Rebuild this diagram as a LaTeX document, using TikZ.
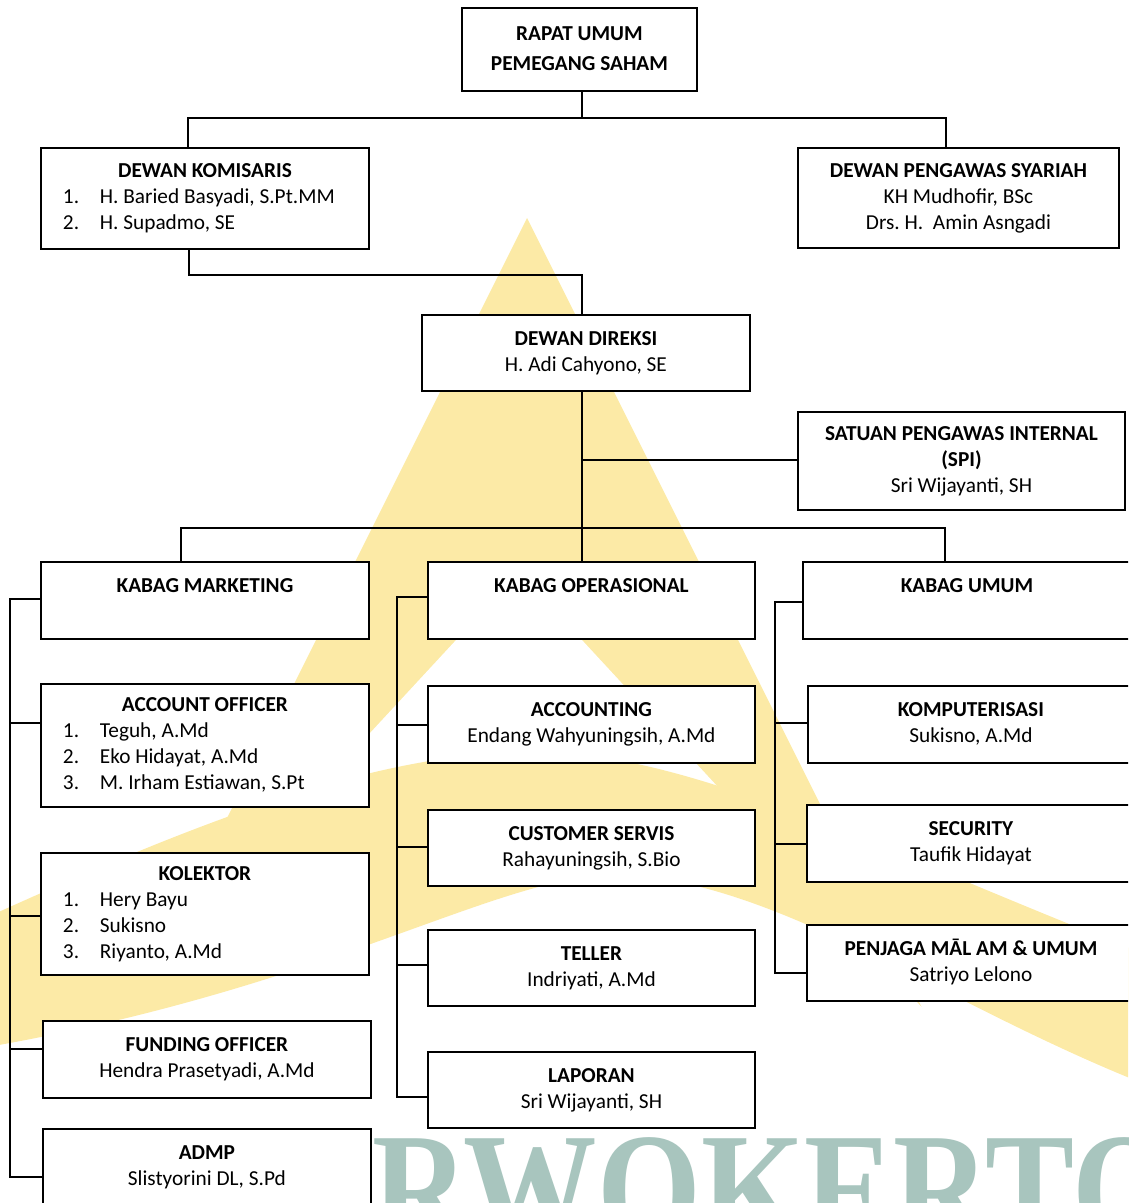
\documentclass[tikz,border=0pt]{standalone}
\usepackage{fontspec}
\usepackage{graphicx}
\setmainfont{Carlito}
\newfontfamily\wmfont{Liberation Serif}
\usetikzlibrary{calc}

\definecolor{wmyellow}{RGB}{252,234,166}
\definecolor{wmteal}{RGB}{168,197,190}

% numbered member line inside a box of width #1
\newcommand\orgitem[3]{\makebox[#1][l]{\strut\hspace{22pt}\makebox[37pt][l]{#2}#3}}

\begin{document}
\frenchspacing
\begin{tikzpicture}[x=1pt,y=-1pt,
  box/.style={draw=black, line width=1.9pt, fill=white, anchor=north west,
    inner sep=0pt, align=flush center, font=\fontsize{21.3}{26}\selectfont},
  conn/.style={line width=1.9pt}]

\useasboundingbox (0,0) rectangle (1128,1203);
\clip (0,0) rectangle (1128,1203);

% ---- background emblem ----
\fill[wmyellow] (527,218) -- (-10,1292) -- (1064,1292) -- cycle;
\fill[white] (519,572) -- (-200,1349) -- (1238,1349) -- cycle;
\fill[wmyellow] (-30,925) .. controls (200,820) and (380,750) .. (540,752)
  .. controls (700,754) and (900,860) .. (1160,960)
  -- (1160,1090) .. controls (950,1010) and (780,880) .. (620,875)
  .. controls (500,872) and (330,990) .. (-30,1050) -- cycle;
\node[anchor=base west, inner sep=0pt, text=wmteal,
  font=\wmfont\bfseries\fontsize{160}{160}\selectfont] (wmtext) at (372,1243)
  {\scalebox{0.834}[1]{RWOKERTO}};

% ---- boxes ----
\node[box, minimum width=235pt, minimum height=83pt, text width=235pt,
  font=\bfseries\fontsize{21.3}{30}\selectfont] (rups) at (461,7)
  {\strut RAPAT UMUM\\\strut PEMEGANG SAHAM};

\node[box, minimum width=328pt, minimum height=101pt, text width=328pt] (kom) at (40,147)
  {{\bfseries\strut DEWAN KOMISARIS}\\
   \orgitem{328pt}{1.}{H. Baried Basyadi, S.Pt.MM}\\
   \orgitem{328pt}{2.}{H. Supadmo, SE}};

\node[box, minimum width=321pt, minimum height=100pt, text width=321pt] (syr) at (797,147)
  {{\bfseries\strut DEWAN PENGAWAS SYARIAH}\\\strut KH Mudhofir, BSc\\\strut Drs. H.\ \ Amin Asngadi};

\node[box, minimum width=328pt, minimum height=76pt, text width=328pt] (dir) at (421,314)
  {{\bfseries\strut DEWAN DIREKSI}\\\strut H. Adi Cahyono, SE};

\node[box, minimum width=327pt, minimum height=98pt, text width=327pt] (spi) at (797,411)
  {{\bfseries\strut SATUAN PENGAWAS INTERNAL}\\{\bfseries\strut (SPI)}\\\strut Sri Wijayanti, SH};

% heads of department
\node[box, minimum width=328pt, minimum height=77pt, text width=328pt] (kmkt) at (40,561)
  {{\bfseries\strut KABAG MARKETING}\\\strut};
\node[box, minimum width=327pt, minimum height=77pt, text width=327pt] (kops) at (427,561)
  {{\bfseries\strut KABAG OPERASIONAL}\\\strut};
\node[box, minimum width=328pt, minimum height=77pt, text width=328pt] (kum) at (802,561)
  {{\bfseries\strut KABAG UMUM}\\\strut};

% marketing
\node[box, minimum width=328pt, minimum height=123pt, text width=328pt] (ao) at (40,683)
  {{\bfseries\strut ACCOUNT OFFICER}\\
   \orgitem{328pt}{1.}{Teguh, A.Md}\\
   \orgitem{328pt}{2.}{Eko Hidayat, A.Md}\\
   \orgitem{328pt}{3.}{M. Irham Estiawan, S.Pt}};
\node[box, minimum width=328pt, minimum height=122pt, text width=328pt] (kol) at (40,852)
  {{\bfseries\strut KOLEKTOR}\\
   \orgitem{328pt}{1.}{Hery Bayu}\\
   \orgitem{328pt}{2.}{Sukisno}\\
   \orgitem{328pt}{3.}{Riyanto, A.Md}};
\node[box, minimum width=328pt, minimum height=77pt, text width=328pt] (fo) at (42,1020)
  {{\bfseries\strut FUNDING OFFICER}\\\strut Hendra Prasetyadi, A.Md};
\node[box, minimum width=328pt, minimum height=77pt, text width=328pt] (admp) at (42,1128)
  {{\bfseries\strut ADMP}\\\strut Slistyorini DL, S.Pd};

% operations
\node[box, minimum width=327pt, minimum height=77pt, text width=327pt] (acc) at (427,685)
  {{\bfseries\strut ACCOUNTING}\\\strut Endang Wahyuningsih, A.Md};
\node[box, minimum width=327pt, minimum height=76pt, text width=327pt] (cs) at (427,809)
  {{\bfseries\strut CUSTOMER SERVIS}\\\strut Rahayuningsih, S.Bio};
\node[box, minimum width=327pt, minimum height=76pt, text width=327pt] (tel) at (427,929)
  {{\bfseries\strut TELLER}\\\strut Indriyati, A.Md};
\node[box, minimum width=327pt, minimum height=76pt, text width=327pt] (lap) at (427,1051)
  {{\bfseries\strut LAPORAN}\\\strut Sri Wijayanti, SH};

% general affairs
\node[box, minimum width=326pt, minimum height=77pt, text width=326pt] (komp) at (807,685)
  {{\bfseries\strut KOMPUTERISASI}\\\strut Sukisno, A.Md};
\node[box, minimum width=328pt, minimum height=77pt, text width=328pt] (sec) at (806,804)
  {{\bfseries\strut SECURITY}\\\strut Taufik Hidayat};
\node[box, minimum width=328pt, minimum height=76pt, text width=328pt] (pen) at (806,924)
  {{\bfseries\strut PENJAGA MĀL AM \& UMUM}\\\strut Satriyo Lelono};

% ---- junctions ----
\coordinate (j0) at (582,118);
\coordinate (jk) at (188,118);
\coordinate (js) at (946,118);
\coordinate (jk2) at (189,275);
\coordinate (jd) at (582,275);
\coordinate (jspi) at (582,460);
\coordinate (j1) at (582,528);
\coordinate (jm) at (181,528);
\coordinate (ju) at (945,528);

\coordinate (m0) at (10,599);
\coordinate (m1) at (10,723);
\coordinate (m2) at (10,916);
\coordinate (m3) at (10,1049);
\coordinate (m4) at (10,1177);

\coordinate (o0) at (397,597);
\coordinate (o1) at (397,725);
\coordinate (o2) at (397,847);
\coordinate (o3) at (397,965);
\coordinate (o4) at (397,1097);

\coordinate (u0) at (775,602);
\coordinate (u1) at (775,723);
\coordinate (u2) at (775,844);
\coordinate (u3) at (775,973);

% ---- connectors ----
\draw[conn] (rups.south -| j0) -- (j0);
\draw[conn] (kom.north -| jk) -- (jk) -- (js) -- (syr.north -| js);
\draw[conn] (kom.south -| jk2) -- (jk2) -- (jd) -- (dir.north -| jd);
\draw[conn] (dir.south -| j1) -- (j1);
\draw[conn] (jspi) -- (spi.west |- jspi);
\draw[conn] (kmkt.north -| jm) -- (jm) -- (ju) -- (kum.north -| ju);
\draw[conn] (j1) -- (kops.north -| j1);

\draw[conn] (kmkt.west |- m0) -- (m0) -- (m4) -- (admp.west |- m4);
\draw[conn] (m1) -- (ao.west |- m1);
\draw[conn] (m2) -- (kol.west |- m2);
\draw[conn] (m3) -- (fo.west |- m3);

\draw[conn] (kops.west |- o0) -- (o0) -- (o4) -- (lap.west |- o4);
\draw[conn] (o1) -- (acc.west |- o1);
\draw[conn] (o2) -- (cs.west |- o2);
\draw[conn] (o3) -- (tel.west |- o3);

\draw[conn] (kum.west |- u0) -- (u0) -- (u3) -- (pen.west |- u3);
\draw[conn] (u1) -- (komp.west |- u1);
\draw[conn] (u2) -- (sec.west |- u2);

\end{tikzpicture}
\end{document}
